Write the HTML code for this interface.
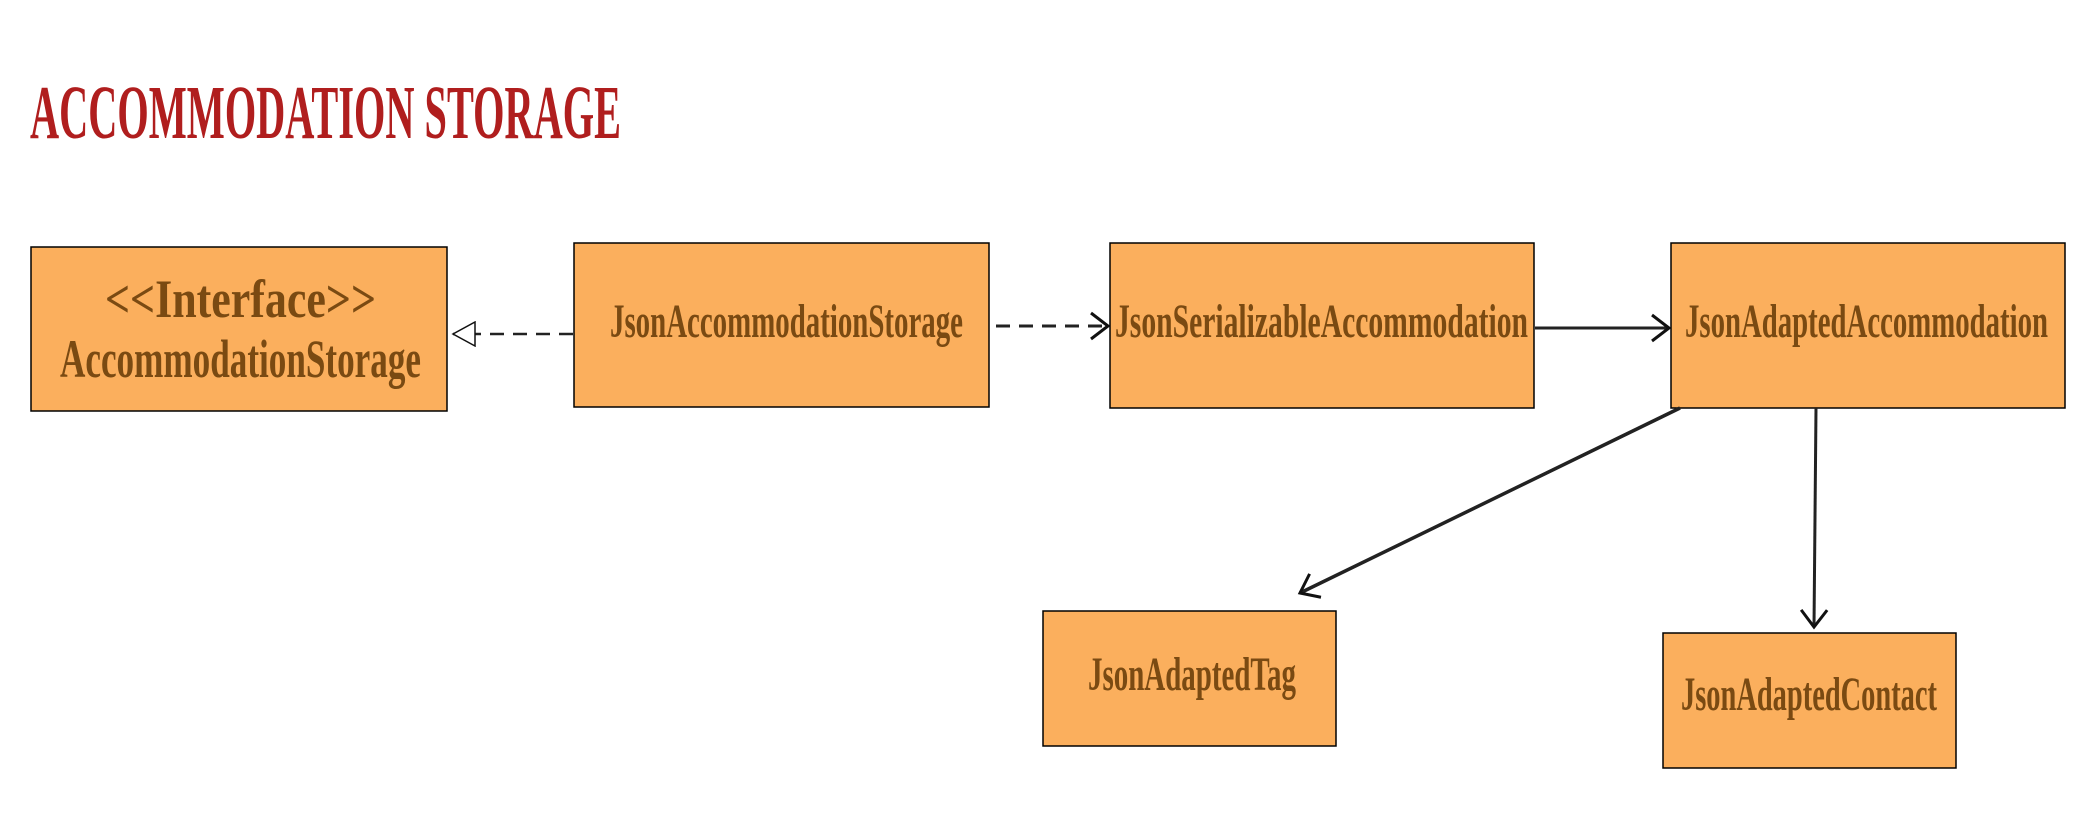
<!DOCTYPE html>
<html><head><meta charset="utf-8"><style>html,body{margin:0;padding:0;background:#fff}svg{display:block}</style></head>
<body>
<svg width="2100" height="813" viewBox="0 0 2100 813" xmlns="http://www.w3.org/2000/svg">
<defs>
<marker id="open" markerWidth="26" markerHeight="30" refX="20" refY="15" orient="auto" markerUnits="userSpaceOnUse">
<path d="M3,2 L20,15 L3,28" fill="none" stroke="#111" stroke-width="3"/>
</marker>
<marker id="tri" markerWidth="26" markerHeight="26" refX="23" refY="13" orient="auto" markerUnits="userSpaceOnUse">
<path d="M1,1 L23,13 L1,25 Z" fill="#fff" stroke="#111" stroke-width="1.5"/>
</marker>
</defs>
<text x="30" y="138" font-family="Liberation Serif" font-weight="bold" font-size="76" fill="#B01E1E" textLength="591" lengthAdjust="spacingAndGlyphs">ACCOMMODATION STORAGE</text>
<g fill="#FBAF5D" stroke="#000" stroke-width="1.5">
<rect x="31" y="247" width="416" height="164"/>
<rect x="574" y="243" width="415" height="164"/>
<rect x="1110" y="243" width="424" height="165"/>
<rect x="1671" y="243" width="394" height="165"/>
<rect x="1043" y="611" width="293" height="135"/>
<rect x="1663" y="633" width="293" height="135"/>
</g>
<g font-family="Liberation Serif" font-weight="bold" fill="#7A4A12">
<text x="105" y="317" font-size="54" textLength="271" lengthAdjust="spacingAndGlyphs">&lt;&lt;Interface&gt;&gt;</text>
<text x="60" y="377" font-size="54" textLength="361" lengthAdjust="spacingAndGlyphs">AccommodationStorage</text>
<text x="610" y="337" font-size="48" textLength="353" lengthAdjust="spacingAndGlyphs">JsonAccommodationStorage</text>
<text x="1115" y="337" font-size="48" textLength="413" lengthAdjust="spacingAndGlyphs">JsonSerializableAccommodation</text>
<text x="1685" y="337" font-size="48" textLength="363" lengthAdjust="spacingAndGlyphs">JsonAdaptedAccommodation</text>
<text x="1088" y="690" font-size="48" textLength="208" lengthAdjust="spacingAndGlyphs">JsonAdaptedTag</text>
<text x="1681" y="710" font-size="48" textLength="256" lengthAdjust="spacingAndGlyphs">JsonAdaptedContact</text>
</g>
<g stroke="#222" stroke-width="3" fill="none">
<line x1="573" y1="334" x2="453" y2="334" stroke-dasharray="14,9" stroke-width="2.5" marker-end="url(#tri)"/>
<line x1="996" y1="326" x2="1108" y2="326" stroke-dasharray="14,9" stroke-width="3" marker-end="url(#open)"/>
<line x1="1535" y1="328" x2="1669" y2="328" marker-end="url(#open)"/>
<line x1="1680" y1="408" x2="1300" y2="593" stroke-width="3.5" marker-end="url(#open)"/>
<line x1="1816" y1="408" x2="1814" y2="627" marker-end="url(#open)"/>
</g>
</svg>
</body></html>
